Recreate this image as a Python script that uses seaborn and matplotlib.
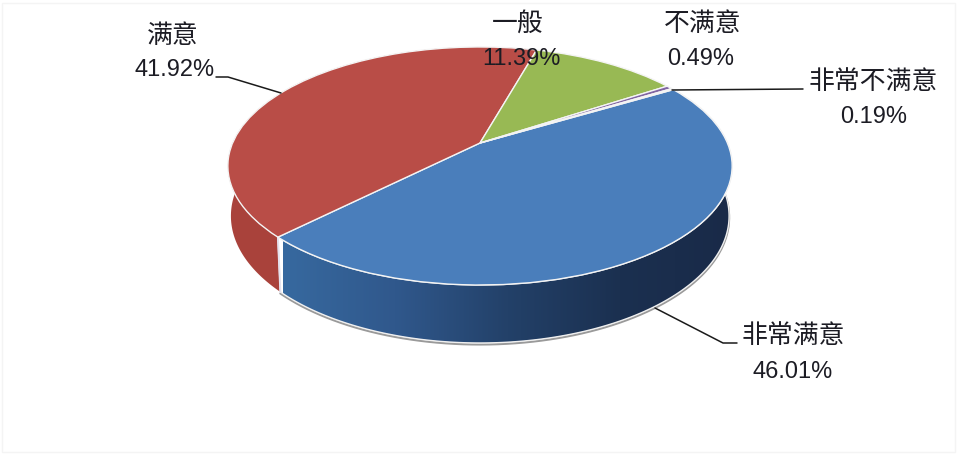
import numpy as np
import seaborn as sns
import matplotlib
matplotlib.use("Agg")
import matplotlib.pyplot as plt
from matplotlib.patches import Polygon, Rectangle
from matplotlib.transforms import Transform
from matplotlib.path import Path

categories = ["非常满意", "满意", "一般", "不满意", "非常不满意"]
values = [46.01, 41.92, 11.39, 0.49, 0.19]
colors = ["#4a7ebb", "#b94d47", "#98b954", "#8064a2", "#4bacc6"]

W, H = 960, 454
START_ANGLE = 30.8
KEEP = 0.193  # perspective strength
TOP = (247.4, 174.6, 311.0)
BOTTOM = (244.4, 172.9, 262.5)


def project(xy, params):
    a, b, c = params
    x, s = xy[:, 0], xy[:, 1]
    d = 1 + KEEP * s
    return np.column_stack([480 + a * x / d, (b * s + c) / d])


class Perspective(Transform):
    input_dims = output_dims = 2

    def __init__(self, params):
        super().__init__()
        self.params = params

    def transform_non_affine(self, values):
        return project(np.asarray(values), self.params)

    def transform_path_non_affine(self, path):
        return Path(self.transform_non_affine(path.vertices), path.codes)


def arc(theta1, theta2, params, n=200):
    t = np.radians(np.linspace(theta1, theta2, n))
    return project(np.column_stack([np.cos(t), np.sin(t)]), params)


def side_shape(theta1, theta2):
    return np.vstack([arc(theta1, theta2, TOP), arc(theta2, theta1, BOTTOM)])


sns.set_theme(style="white")
plt.rcParams["font.family"] = ["Liberation Sans", "Noto Sans CJK SC"]

fig, ax = plt.subplots(figsize=(W / 100, H / 100), dpi=100)
fig.subplots_adjust(0, 0, 1, 1)

# top of the pie, bent into perspective
wedges, _ = ax.pie(values, colors=colors, startangle=START_ANGLE, counterclock=False,
                   wedgeprops={"edgecolor": "#f4f4f4", "linewidth": 1.0})
for w in wedges:
    w.set_transform(Perspective(TOP) + ax.transData)
    w.set_zorder(4)
    w.set_clip_on(False)

blue_end = START_ANGLE - 360 * values[0] / 100
red_end = blue_end - 360 * values[1] / 100

# side walls
shadow = arc(blue_end, START_ANGLE, BOTTOM)
ax.plot(shadow[:, 0], shadow[:, 1] - 1.5, color="#9a9a9a", lw=1.6, zorder=1)

blue_wall = sns.blend_palette(["#37699f", "#30588c", "#234169", "#1b3050", "#192a48"], as_cmap=True)
im = ax.imshow(np.linspace(0, 1, 256)[None, :], cmap=blue_wall, aspect="auto",
               extent=(283, 732, 0, H), zorder=2)
clip = Polygon(side_shape(blue_end, START_ANGLE), transform=ax.transData,
               facecolor="none", edgecolor="#f0f0f0", lw=1.0, zorder=3)
ax.add_patch(clip)
im.set_clip_path(clip)

ax.add_patch(Polygon(side_shape(red_end, blue_end), facecolor="#a9423b", edgecolor="none", zorder=2))
corner = np.vstack([arc(blue_end, blue_end, TOP, 1), arc(blue_end, blue_end, BOTTOM, 1)])
ax.plot(corner[:, 0], corner[:, 1], color="#e4e2ee", lw=1.4, zorder=3)

# leader lines
ax.plot([216, 228, 281], [H - 77, H - 77, H - 93], color="#1a1a1a", lw=1.1, zorder=5)
ax.plot([672, 803], [H - 90, H - 89], color="#1a1a1a", lw=1.1, zorder=5)
ax.plot([655, 723, 737], [H - 308, H - 343, H - 343], color="#1a1a1a", lw=1.1, zorder=5)

# labels: (name x, name y, value x, value y)
label_pos = [(793, 336, 793, 372), (173, 36, 175, 70), (518, 24, 521, 59),
             (703, 24, 701, 59), (873, 82, 874, 117)]
for name, val, (nx, ny, vx, vy) in zip(categories, values, label_pos):
    ax.text(nx, H - ny, name, ha="center", va="center", fontsize=18.6, color="#1c1c24", zorder=6)
    ax.text(vx, H - vy, f"{val:.2f}%", ha="center", va="center", fontsize=17, color="#1c1c24", zorder=6)

# faint picture frame
ax.add_patch(Rectangle((2, 2.5), 953, 449, facecolor="none", edgecolor="#f4f4f4", lw=1, zorder=0))

ax.set_aspect("auto")
ax.set_xlim(0, W)
ax.set_ylim(0, H)
ax.axis("off")

fig.savefig("out.png", dpi=100, facecolor="white")
